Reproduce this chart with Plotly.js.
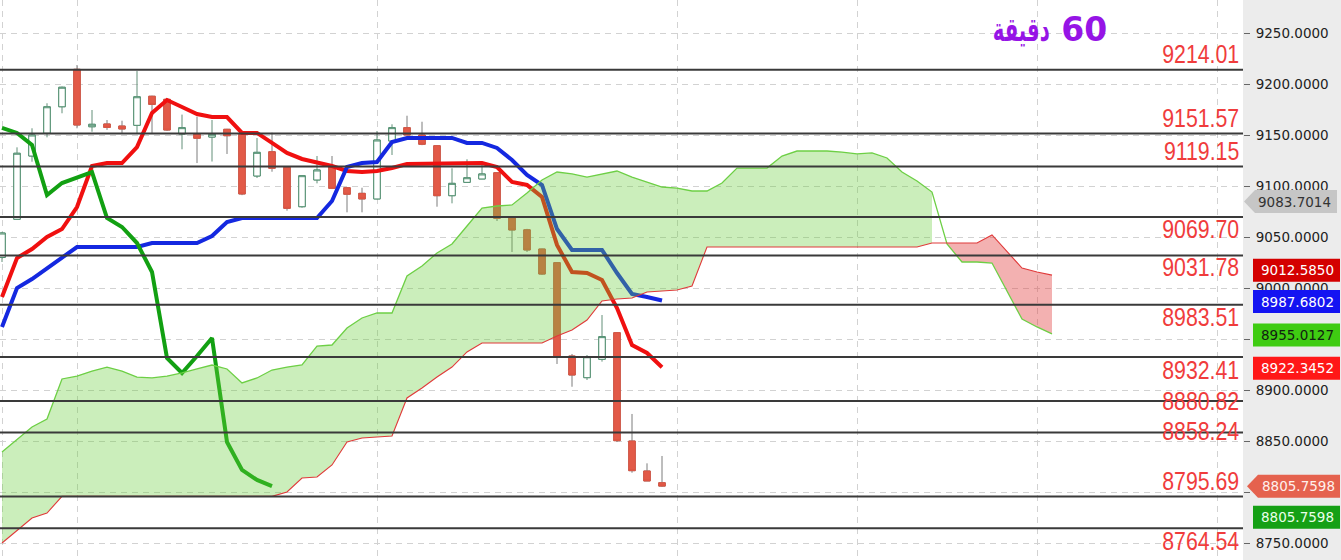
<!DOCTYPE html>
<html><head><meta charset="utf-8">
<script src="https://cdn.plot.ly/plotly-3.0.1.min.js"></script>
<style>html,body{margin:0;padding:0;background:#fff;}#chart{width:1341px;height:560px;}</style>
</head><body><div id="chart"></div>
<script>
// ---- data (bar index 0..44, cloud projected to 70) ----
const openP  = [9029.9,9067.4,9129.4,9151.7,9177.7,9214.4,9158.1,9160.8,9158.8,9159.5,9188.0,9185.0,9151.0,9150.7,9148.0,9155.6,9150.7,9109.8,9133.6,9118.3,9079.7,9105.9,9119.6,9098.3,9092.8,9087.3,9144.1,9157.2,9150.0,9139.5,9090.5,9103.6,9106.9,9113.0,9068.6,9057.0,9038.2,9024.8,8933.3,8912.1,8930.1,8956.2,8850.0,8820.6,8809.1];
const highP  = [9055.0,9137.9,9156.6,9181.1,9197.5,9218.6,9174.5,9164.7,9164.0,9212.7,9188.5,9186.0,9170.0,9168.0,9164.7,9156.0,9151.0,9147.0,9152.3,9118.8,9110.5,9129.4,9129.4,9098.8,9098.3,9153.9,9160.5,9168.9,9163.0,9140.0,9117.4,9126.2,9120.6,9113.5,9068.9,9058.0,9038.5,9025.0,8935.3,8934.3,8973.5,8956.5,8876.5,8828.1,8835.3];
const lowP   = [9025.5,9067.0,9123.8,9147.7,9171.3,9156.6,9153.2,9155.0,9152.0,9151.0,9152.0,9154.0,9136.0,9122.5,9124.0,9131.4,9091.0,9107.8,9114.0,9075.8,9078.7,9102.6,9097.0,9074.2,9074.2,9087.0,9130.4,9150.0,9140.0,9079.7,9083.0,9103.6,9106.9,9065.7,9035.3,9035.3,9013.0,8925.5,8903.2,8909.8,8927.8,8849.0,8818.9,8810.8,8805.0];
const closeP = [9053.9,9132.1,9150.0,9177.7,9196.8,9159.8,9160.5,9157.4,9155.9,9187.5,9180.0,9154.9,9157.2,9146.8,9150.7,9149.3,9092.2,9133.0,9117.4,9078.1,9110.1,9115.7,9097.7,9091.9,9087.3,9145.1,9157.2,9150.0,9140.9,9090.5,9102.6,9108.1,9111.8,9068.3,9056.9,9037.3,9013.7,8932.0,8914.7,8932.6,8952.3,8850.3,8820.9,8810.8,8805.76];
const tenkan = [8991.2,9029.4,9038.2,9050.0,9057.8,9079.4,9119.6,9122.5,9122.5,9138.2,9171.6,9184.3,9177.5,9170.6,9167.6,9167.6,9152.0,9152.0,9142.2,9132.4,9126.5,9123.5,9119.6,9114.7,9113.7,9114.7,9117.6,9121.6,9121.6,9121.6,9121.6,9121.6,9122.5,9118.6,9103.9,9101.0,9089.2,9042.2,9015.7,9014.7,9007.8,8980.4,8944.1,8936.3,8922.35];
const kijun  = [8961.8,9000.0,9008.8,9019.6,9030.4,9040.2,9040.2,9040.2,9040.2,9040.2,9044.1,9044.1,9044.1,9044.1,9051.0,9064.7,9068.6,9068.6,9068.6,9068.6,9068.6,9068.6,9085.3,9118.6,9122.5,9123.5,9143.1,9147.1,9147.1,9147.1,9147.1,9142.2,9142.2,9137.3,9125.5,9110.8,9101.0,9057.8,9037.3,9037.3,9037.3,9014.7,8994.1,8991.2,8987.68];
const chikou = [9156.9,9152.0,9140.2,9091.2,9102.9,9108.8,9113.7,9068.6,9059.8,9044.1,9015.7,8931.4,8916.7,8933.3,8951.0,8849.0,8821.6,8811.8,8805.76];
const senkouA = [8839.2,8851.0,8863.7,8871.6,8910.8,8913.7,8918.6,8922.5,8918.6,8912.7,
  8911.8,8913.7,8916.7,8920.6,8924.5,8920.6,8906.9,8911.8,8919.6,8922.5,
  8924.5,8943.1,8944.1,8960.8,8970.6,8975.5,8975.5,9011.8,9021.6,9034.3,
  9043.1,9060.8,9078.4,9080.4,9081.4,9093.1,9105.9,9113.7,9111.8,9108.8,
  9111.8,9114.7,9108.8,9103.9,9099.0,9098.0,9095.1,9095.1,9102.9,9117.6,
  9117.6,9117.6,9129.4,9134.3,9134.3,9134.3,9133.3,9131.4,9132.4,9127.5,
  9113.7,9104.9,9094.1,9043.1,9025.5,9025.5,9024.5,8997.1,8969.6,8961.8,
  8955.01];
const senkouB = [8750.0,8762.7,8774.5,8779.4,8795.7,8795.7,8795.7,8795.7,8795.7,8795.7,
  8795.7,8795.7,8795.7,8795.7,8795.7,8795.7,8795.7,8795.7,8795.7,8800.0,
  8813.7,8814.7,8826.5,8849.0,8852.9,8853.9,8854.9,8892.2,8902.0,8912.7,
  8922.5,8937.3,8946.1,8946.1,8946.1,8946.1,8946.1,8952.9,8958.8,8968.6,
  8987.3,8989.2,8990.2,8996.1,8997.1,8998.0,9002.0,9040.2,9040.2,9040.2,
  9040.2,9040.2,9040.2,9040.2,9040.2,9040.2,9040.2,9040.2,9040.2,9040.2,
  9040.2,9040.2,9044.1,9044.1,9044.1,9044.1,9052.0,9036.3,9019.6,9015.7,
  9012.585];
const levelValues = [9214.01,9151.57,9119.15,9069.70,9031.78,8983.51,8932.41,8889.2,8858.24,8795.69,8764.54];
const levelLabels = ['9214.01','9151.57','9119.15','9069.70','9031.78','8983.51','8932.41','8880.82','8858.24','8795.69','8764.54'];
const tagValues = [9083.7014,9012.5850,8987.6802,8955.0127,8922.3452,8805.7598,8805.7598];
const tagTexts  = ['9083.7014','9012.5850','8987.6802','8955.0127','8922.3452','8805.7598','8805.7598'];
const yTickVals = [8750,8800,8850,8900,8950,9000,9050,9100,9150,9200,9250];
const yTickText = ['8750.0000','','8850.0000','8900.0000','','9000.0000','9050.0000','9100.0000','9150.0000','9200.0000','9250.0000'];
const titleNumber = '60';
const titleWord = 'دقيقة';

// ---- styles / positions ----
const levelShift = [15.5,15,15.5,-12,-11.5,-12,-13.5,0.5,1.5,15,-12.8];
const tagBg   = ['#c6c6c6','#d40000','#1414f2','#3fcc12','#ff1717','#e5624e','#15a015'];
const tagFg   = ['#333333','#ffffff','#ffffff','#112211','#ffffff','#fff0ec','#eaffea'];
const tagKind = ['arrow','rect','rect','rect','rect','arrow','rect'];
const tagShift= [1,5,-1,-1,-1,0,-31];
const tagTip  = [1,0,0,0,0,4,0];
const tagRight= [94,97,97,97,97,97,97];
const tagTextX= [51,54,54,54,54,55,54];
const gridIdx = [0,5,25,45,57,69,81];

const barIdx = closeP.map((_, i) => i);
const cloudIdx = senkouA.map((_, i) => i);
const chikouIdx = chikou.map((_, i) => i);
const split = 63;
// body-only bounds (to draw bodies over grey wicks)
const bodyTop = openP.map((o, i) => Math.max(o, closeP[i]));
const bodyBot = openP.map((o, i) => Math.min(o, closeP[i]));

const traces = [
  // wicks (grey) + bodies
  {type:'candlestick', x:barIdx, open:openP, high:highP, low:lowP, close:closeP,
   increasing:{line:{color:'#628f78',width:1}, fillcolor:'#ffffff'},
   decreasing:{line:{color:'#7c7c7c',width:1}, fillcolor:'#e25a48'},
   whiskerwidth:0, hoverinfo:'skip', showlegend:false},
  // bodies with their own outline colour
  {type:'candlestick', x:barIdx, open:openP, high:bodyTop, low:bodyBot, close:closeP,
   increasing:{line:{color:'#4f8f6f',width:1}, fillcolor:'#ffffff'},
   decreasing:{line:{color:'#dc5442',width:1}, fillcolor:'#e25a48'},
   whiskerwidth:0, hoverinfo:'skip', showlegend:false},
  {type:'scatter', mode:'lines', x:barIdx, y:tenkan, line:{color:'#f01010',width:4}, hoverinfo:'skip'},
  {type:'scatter', mode:'lines', x:barIdx, y:kijun, line:{color:'#1428e0',width:4}, hoverinfo:'skip'},
  {type:'scatter', mode:'lines', x:chikouIdx, y:chikou, line:{color:'#12a012',width:4}, hoverinfo:'skip'},
  {type:'scatter', mode:'lines', x:cloudIdx.slice(0,split), y:senkouB.slice(0,split), line:{width:0,color:'rgba(0,0,0,0)'}, hoverinfo:'skip'},
  {type:'scatter', mode:'lines', x:cloudIdx.slice(0,split), y:senkouA.slice(0,split), fill:'tonexty', fillcolor:'rgba(105,205,60,0.35)', line:{width:0,color:'rgba(0,0,0,0)'}, hoverinfo:'skip'},
  {type:'scatter', mode:'lines', x:cloudIdx.slice(split), y:senkouA.slice(split), line:{width:0,color:'rgba(0,0,0,0)'}, hoverinfo:'skip'},
  {type:'scatter', mode:'lines', x:cloudIdx.slice(split), y:senkouB.slice(split), fill:'tonexty', fillcolor:'rgba(225,60,60,0.4)', line:{width:0,color:'rgba(0,0,0,0)'}, hoverinfo:'skip'},
  {type:'scatter', mode:'lines', x:cloudIdx, y:senkouA, line:{color:'#6dcf45',width:1.3}, hoverinfo:'skip'},
  {type:'scatter', mode:'lines', x:cloudIdx, y:senkouB, line:{color:'#e03a3a',width:1.1}, hoverinfo:'skip'}
];

const shapes = [];
levelValues.forEach(v => shapes.push({type:'line', xref:'paper', x0:0, x1:1, yref:'y', y0:v, y1:v,
  line:{color:'#3a3a3a', width:2}, layer:'above'}));
tagValues.forEach((v, k) => {
  const s = tagShift[k], h = 11.5;
  let path;
  if (tagKind[k] === 'arrow') {
    const t = tagTip[k];
    path = `M ${t} ${s} L ${t+11} ${s-h} L ${tagRight[k]} ${s-h} L ${tagRight[k]} ${s+h} L ${t+11} ${s+h} Z`;
  } else {
    path = `M 10 ${s-h} L ${tagRight[k]} ${s-h} L ${tagRight[k]} ${s+h} L 10 ${s+h} Z`;
  }
  shapes.push({type:'path', xref:'paper', yref:'y', xsizemode:'pixel', ysizemode:'pixel',
    xanchor:1, yanchor:v, path:path, fillcolor:tagBg[k], line:{width:0}, layer:'above'});
});

const annotations = [];
levelValues.forEach((v, k) => annotations.push({xref:'paper', x:1, xanchor:'right', xshift:-2, align:'right',
  yref:'y', y:v, yanchor:'middle', yshift:levelShift[k], text:levelLabels[k], showarrow:false,
  font:{family:'Liberation Sans, Arial', size:25.5, color:'#f03c3c'}}));
tagValues.forEach((v, k) => annotations.push({xref:'paper', x:1, xanchor:'center', xshift:tagTextX[k],
  yref:'y', y:v, yanchor:'middle', yshift:tagShift[k], text:tagTexts[k], showarrow:false,
  font:{family:'DejaVu Sans', size:13.5, color:tagFg[k]}}));

const layout = {
  width:1341, height:560,
  margin:{l:0, r:98, t:0, b:0, pad:0},
  paper_bgcolor:'#ececec', plot_bgcolor:'#ffffff',
  showlegend:false,
  title:{text:'<span style="font-weight:700">' + titleWord + '</span>\u200E ' + titleNumber,
    x:1050/1341, xanchor:'center', y:1-29/560, yanchor:'middle',
    font:{family:'DejaVu Sans', size:33, color:'#9614e6', weight:700}},
  boxgap:0.38,
  xaxis:{range:[-2/15, 1241/15], showticklabels:false, ticks:'', tickvals:gridIdx,
    showgrid:true, gridcolor:'#d2d2d2', griddash:'6px,5px', gridwidth:1, zeroline:false,
    showline:false, rangeslider:{visible:false}, fixedrange:true},
  yaxis:{side:'right', range:[9250-527/1.02, 9250+33/1.02], tickmode:'array', tickvals:yTickVals, ticktext:yTickText,
    ticks:'outside', ticklen:6, tickcolor:'#666', ticklabelstandoff:3,
    tickfont:{family:'DejaVu Sans', size:13.5, color:'#222'},
    showgrid:true, gridcolor:'#d2d2d2', griddash:'6px,5px', gridwidth:1, zeroline:false,
    showline:false, fixedrange:true},
  shapes:shapes, annotations:annotations
};
Plotly.newPlot('chart', traces, layout, {displayModeBar:false, staticPlot:true}).then(gd => {
  // narrow the level labels to the condensed look of the original
  gd.querySelectorAll('.annotation').forEach(el => {
    const i = +el.getAttribute('data-index');
    if (i < levelValues.length) {
      const t = el.querySelector('text.annotation-text');
      if (t) {
        const w = t.getComputedTextLength();
        t.setAttribute('textLength', (w * 0.835).toFixed(1));
        t.setAttribute('lengthAdjust', 'spacingAndGlyphs');
      }
    }
  });
  // narrow the Arabic word of the title
  const tt = gd.querySelector('.gtitle');
  if (tt) {
    const sp = Array.from(tt.querySelectorAll('tspan')).find(s => /[\u0600-\u06FF]/.test(s.textContent));
    if (sp) { sp.setAttribute('textLength', '57'); sp.setAttribute('lengthAdjust', 'spacingAndGlyphs'); }
  }
});
</script></body></html>
